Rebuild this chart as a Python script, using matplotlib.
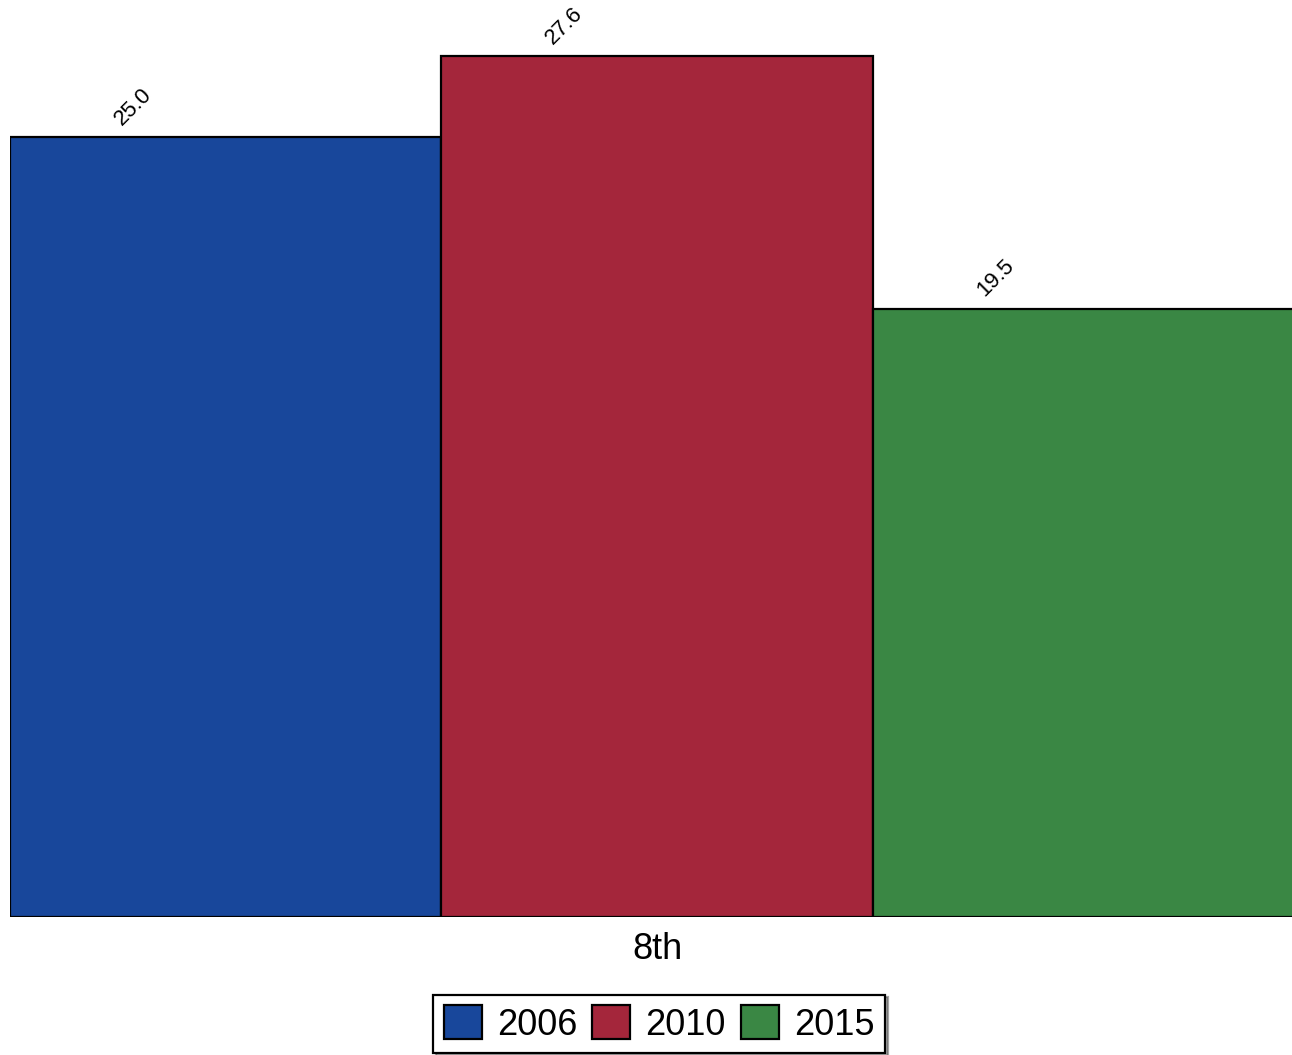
import matplotlib
matplotlib.use("Agg")
import matplotlib.pyplot as plt

plt.rcParams['font.family'] = ['Liberation Sans', 'DejaVu Sans']

# data
category = "8th"
years = ["2006", "2010", "2015"]
values = [25.0, 27.6, 19.5]
colors = ["#18479b", "#a4263b", "#3a8744"]

fig = plt.figure(figsize=(12.92, 10.55), dpi=100)
# axes runs a little past the right edge, so the last bar is clipped like the original
ax = fig.add_axes([10 / 1292, 138 / 1055, 1294 / 1292, 917 / 1055])

positions = [0, 1, 2]
bars = ax.bar(positions, values, width=1.0, color=colors,
              edgecolor="black", linewidth=1.6, label=years)

for pos, val in zip(positions, values):
    ax.text(pos - 0.5 + 0.285, val + 0.25, f"{val:.1f}", rotation=45,
            ha="center", va="bottom", fontsize=16)

ax.set_xlim(-0.5, 2.5)
ax.set_ylim(0, 29.4)
ax.set_xticks([1])
ax.set_xticklabels([category], fontsize=26)
ax.tick_params(axis="x", length=0, pad=11)
ax.set_yticks([])
for s in ax.spines.values():
    s.set_visible(False)

leg = fig.legend(bars, years, loc="center", bbox_to_anchor=(659 / 1292, 1 - 1024 / 1055),
                 ncol=3, fontsize=26, frameon=True, fancybox=False, shadow=True,
                 edgecolor="black", handlelength=1.05, handleheight=1.05,
                 handletextpad=0.42, columnspacing=0.42, borderpad=0.3,
                 borderaxespad=0)
leg.get_frame().set_linewidth(1.6)

fig.savefig("out.png", dpi=100)
